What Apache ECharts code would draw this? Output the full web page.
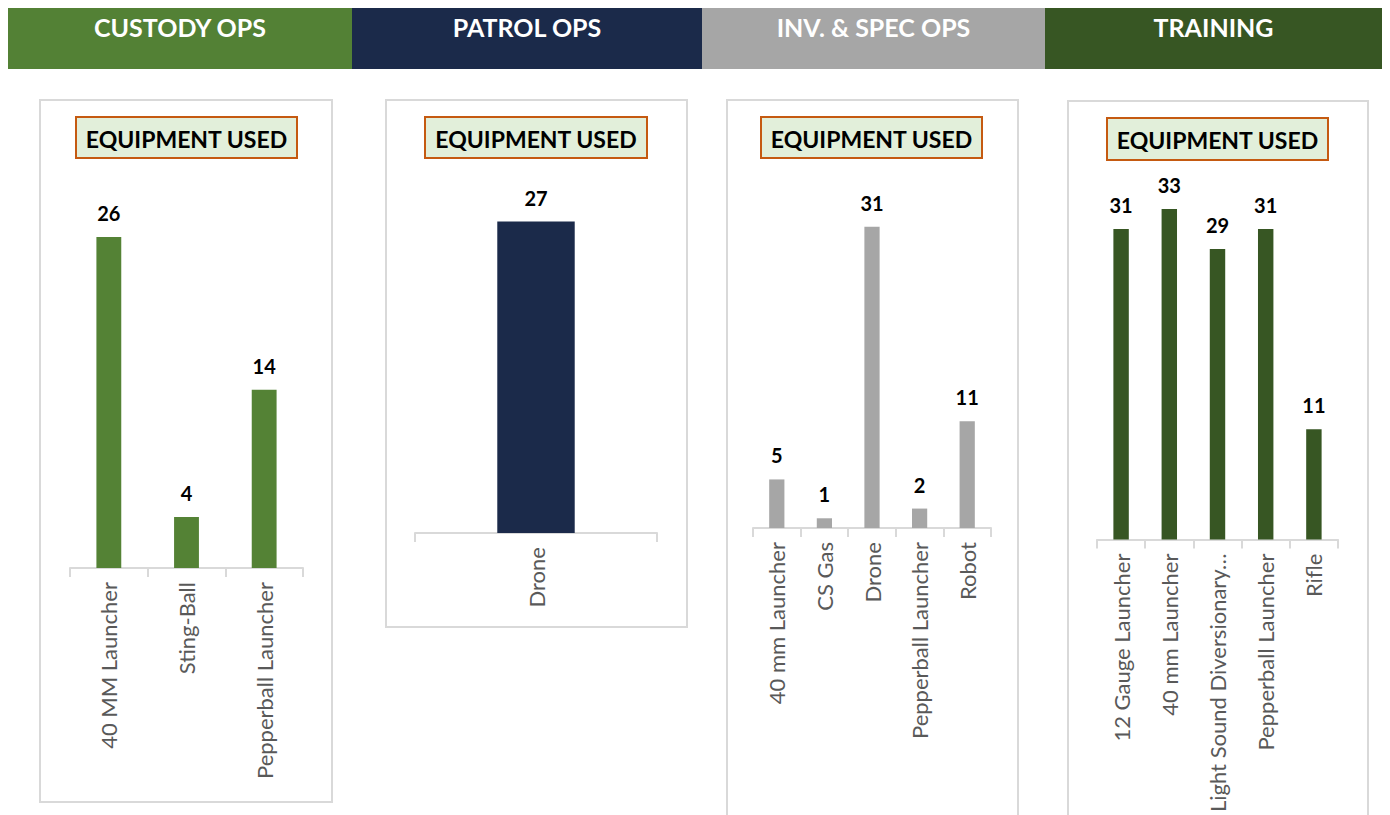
<!DOCTYPE html>
<html>
<head>
<meta charset="utf-8">
<script src="https://cdn.jsdelivr.net/npm/echarts@6/dist/echarts.min.js"></script>
<style>
html,body{margin:0;padding:0;background:#fff;}
#chart{width:1390px;height:815px;}
</style>
</head>
<body>
<div id="chart"></div>
<script>
// ---- data ----
var sections = ['CUSTODY OPS', 'PATROL OPS', 'INV. & SPEC OPS', 'TRAINING'];
var panelTitle = 'EQUIPMENT USED';

var custodyCats = ['40 MM Launcher', 'Sting-Ball', 'Pepperball Launcher'];
var custodyVals = [26, 4, 14];

var patrolCats = ['Drone'];
var patrolVals = [27];

var invCats = ['40 mm Launcher', 'CS Gas', 'Drone', 'Pepperball Launcher', 'Robot'];
var invVals = [5, 1, 31, 2, 11];

var trainCats = ['12 Gauge Launcher', '40 mm Launcher', 'Light Sound Diversionary…', 'Pepperball Launcher', 'Rifle'];
var trainVals = [31, 33, 29, 31, 11];

// ---- layout / style ----
var FONT = 'Lato, "Open Sans", sans-serif';
var headerColors = ['#538135', '#1b2a4a', '#a6a6a6', '#375623'];
var headerX = [8, 352, 702, 1045, 1382];
var barColors = ['#548235', '#1b2a4a', '#a6a6a6', '#375623'];
var panels = [
  {x: 40, y: 100, w: 292, h: 702, tx: 76, ty: 117, tw: 221, th: 41},
  {x: 386, y: 100, w: 301, h: 527, tx: 425, ty: 117, tw: 222, th: 41},
  {x: 727, y: 100, w: 291, h: 740, tx: 761, ty: 117, tw: 221, th: 41},
  {x: 1068, y: 101, w: 300, h: 740, tx: 1107, ty: 118, tw: 221, th: 42}
];
var grids = [
  {left: 70, width: 233, top: 186, height: 382},
  {left: 415, width: 242, top: 187, height: 346},
  {left: 753, width: 238, top: 188, height: 340},
  {left: 1097, width: 241, top: 189, height: 354}
];
var yMax = [30, 30, 35, 35];
var catsList = [custodyCats, patrolCats, invCats, trainCats];
var valsList = [custodyVals, patrolVals, invVals, trainVals];

var graphics = [];
for (var i = 0; i < 4; i++) {
  graphics.push({
    type: 'rect', shape: {x: headerX[i], y: 8, width: headerX[i + 1] - headerX[i], height: 61},
    style: {fill: headerColors[i]}, z: 0
  });
  graphics.push({
    type: 'text', x: (headerX[i] + headerX[i + 1]) / 2, y: 27,
    style: {text: sections[i], fill: '#fff', font: 'bold 25px ' + FONT, textAlign: 'center', textVerticalAlign: 'middle'},
    z: 2
  });
  var p = panels[i];
  graphics.push({
    type: 'rect', shape: {x: p.x, y: p.y, width: p.w, height: p.h},
    style: {fill: 'none', stroke: '#d9d9d9', lineWidth: 2}, z: 0
  });
  graphics.push({
    type: 'rect', shape: {x: p.tx, y: p.ty, width: p.tw, height: p.th},
    style: {fill: '#e2efda', stroke: '#c55a11', lineWidth: 2}, z: 1
  });
  graphics.push({
    type: 'text', x: p.tx + p.tw / 2, y: p.ty + p.th / 2 + 1,
    style: {text: panelTitle, fill: '#000', font: 'bold 23px ' + FONT, textAlign: 'center', textVerticalAlign: 'middle'},
    z: 2
  });
}

var xAxes = [], yAxes = [], series = [];
for (var k = 0; k < 4; k++) {
  xAxes.push({
    type: 'category', gridIndex: k, data: catsList[k],
    axisLine: {lineStyle: {color: '#d9d9d9', width: 2}},
    axisTick: {show: true, length: 9, lineStyle: {color: '#d9d9d9', width: 2}},
    axisLabel: {rotate: 90, interval: 0, margin: 14, color: '#595959', fontSize: 22, fontFamily: FONT}
  });
  yAxes.push({type: 'value', gridIndex: k, min: 0, max: yMax[k], show: false, splitLine: {show: false}});
  series.push({
    type: 'bar', xAxisIndex: k, yAxisIndex: k, data: valsList[k], barWidth: '32%',
    itemStyle: {color: barColors[k]},
    label: {show: true, position: 'top', distance: 14, color: '#000', fontWeight: 'bold', fontSize: 20, fontFamily: FONT}
  });
}

var chart = echarts.init(document.getElementById('chart'), null, {renderer: 'svg'});
chart.setOption({
  animation: false,
  backgroundColor: '#fff',
  grid: grids,
  xAxis: xAxes,
  yAxis: yAxes,
  series: series,
  graphic: graphics
});
</script>
</body>
</html>
